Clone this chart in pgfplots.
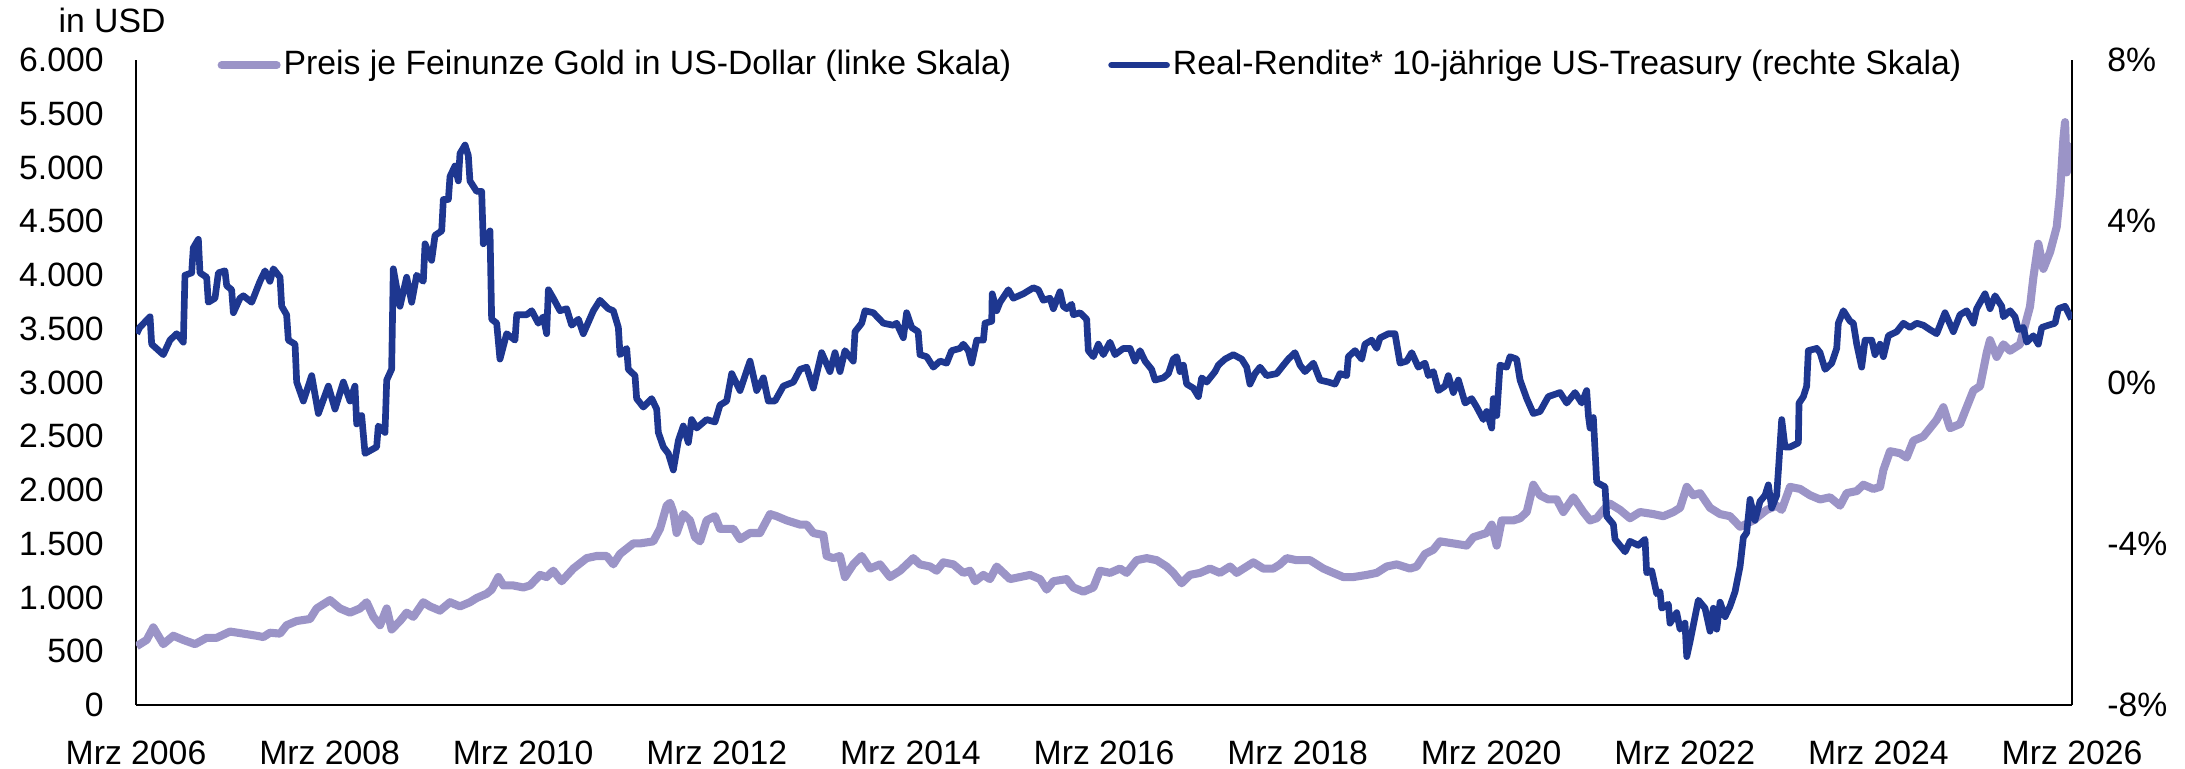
\documentclass[border=0pt]{standalone}
\usepackage{fontspec}
\setmainfont{Liberation Sans}
\usepackage{pgfplots}
\pgfplotsset{compat=1.18}
\usetikzlibrary{calc}

\definecolor{goldc}{HTML}{9B94C7}
\definecolor{bluec}{HTML}{1E3790}
\newcommand\lf{\fontsize{9.6}{11.5}\selectfont}

% x = years since March 2006
\pgfplotsset{
  base/.style={
    width=193.6mm, height=64.5mm, scale only axis,
    xmin=0, xmax=20,
    major tick length=0pt,
    axis line style={-, black, line width=0.5pt},
    tick label style={font=\lf},
    /pgf/number format/assume math mode=true,
  },
}

\begin{document}
\begin{tikzpicture}
\begin{axis}[base, name=ax,
  ymin=0, ymax=6000,
  axis x line*=bottom, axis y line*=left,
  xtick={0,2,...,20},
  xticklabels={Mrz 2006,Mrz 2008,Mrz 2010,Mrz 2012,Mrz 2014,Mrz 2016,Mrz 2018,Mrz 2020,Mrz 2022,Mrz 2024,Mrz 2026},
  xticklabel style={yshift=-2.4mm},
  ytick={0,500,...,6000},
  scaled y ticks=false,
  yticklabel style={xshift=-2.0mm, /pgf/number format/1000 sep={.}},
]
\addplot[goldc, line width=2.3pt, line join=round] coordinates {
(0.007,547) (0.110,605) (0.179,722) (0.282,566) (0.386,644) (0.489,605)
(0.610,566) (0.730,625) (0.833,625) (0.971,683) (1.109,664) (1.247,644)
(1.315,632) (1.384,672) (1.488,664) (1.556,742) (1.660,781) (1.798,800)
(1.866,898) (2.004,976) (2.107,898) (2.211,859) (2.314,898) (2.383,956)
(2.452,820) (2.521,742) (2.590,898) (2.641,703) (2.727,781) (2.796,859)
(2.865,820) (2.968,956) (3.037,917) (3.140,878) (3.244,956) (3.347,917)
(3.450,956) (3.519,995) (3.623,1035) (3.674,1073) (3.743,1190) (3.795,1112)
(3.898,1112) (4.001,1093) (4.070,1112) (4.174,1210) (4.242,1190) (4.311,1249)
(4.397,1151) (4.518,1269) (4.656,1366) (4.759,1386) (4.862,1386) (4.931,1308)
(5.000,1405) (5.138,1503) (5.207,1503) (5.344,1522) (5.413,1639) (5.482,1854)
(5.517,1881) (5.551,1795) (5.585,1600) (5.654,1776) (5.723,1717) (5.775,1561)
(5.827,1522) (5.895,1717) (5.981,1756) (6.033,1639) (6.171,1639) (6.240,1542)
(6.343,1600) (6.446,1600) (6.550,1776) (6.619,1756) (6.722,1717) (6.860,1678)
(6.928,1678) (6.997,1600) (7.101,1581) (7.135,1386) (7.204,1366) (7.273,1386)
(7.324,1190) (7.410,1308) (7.497,1386) (7.583,1269) (7.686,1308) (7.789,1190)
(7.893,1249) (8.030,1366) (8.099,1308) (8.203,1288) (8.271,1249) (8.340,1327)
(8.444,1308) (8.547,1229) (8.616,1249) (8.668,1151) (8.754,1210) (8.822,1171)
(8.891,1288) (9.029,1171) (9.132,1190) (9.236,1210) (9.339,1171) (9.408,1073)
(9.477,1151) (9.614,1171) (9.683,1093) (9.787,1054) (9.890,1093) (9.959,1249)
(10.062,1229) (10.165,1269) (10.234,1229) (10.338,1347) (10.441,1366) (10.544,1347)
(10.647,1288) (10.716,1229) (10.802,1132) (10.888,1210) (10.992,1229) (11.095,1269)
(11.198,1229) (11.302,1288) (11.371,1229) (11.474,1288) (11.543,1327) (11.646,1269)
(11.749,1269) (11.818,1308) (11.887,1366) (11.991,1347) (12.128,1347) (12.266,1269)
(12.369,1229) (12.473,1190) (12.576,1190) (12.714,1210) (12.817,1229) (12.920,1288)
(13.024,1308) (13.161,1269) (13.230,1288) (13.316,1405) (13.402,1444) (13.471,1522)
(13.609,1503) (13.747,1483) (13.816,1561) (13.953,1600) (14.005,1678) (14.057,1483)
(14.108,1717) (14.229,1717) (14.298,1737) (14.367,1795) (14.435,2049) (14.504,1951)
(14.590,1912) (14.677,1912) (14.745,1795) (14.849,1932) (14.952,1795) (15.021,1717)
(15.090,1737) (15.159,1815) (15.227,1873) (15.331,1815) (15.434,1737) (15.537,1795)
(15.675,1776) (15.778,1756) (15.882,1795) (15.951,1834) (16.020,2029) (16.088,1951)
(16.157,1971) (16.261,1834) (16.364,1776) (16.467,1756) (16.571,1658) (16.622,1678)
(16.708,1717) (16.846,1815) (16.949,1854) (17.001,1815) (17.087,2029) (17.190,2010)
(17.294,1951) (17.397,1912) (17.500,1932) (17.604,1854) (17.672,1971) (17.776,1990)
(17.845,2049) (17.948,2010) (18.017,2029) (18.051,2185) (18.120,2361) (18.223,2342)
(18.292,2302) (18.361,2458) (18.464,2498) (18.533,2575) (18.602,2653) (18.671,2770)
(18.740,2575) (18.843,2614) (18.912,2770) (18.981,2926) (19.050,2965) (19.119,3277)
(19.153,3394) (19.222,3238) (19.291,3355) (19.360,3296) (19.463,3355) (19.497,3472)
(19.566,3706) (19.601,3979) (19.652,4291) (19.704,4057) (19.773,4213) (19.842,4447)
(19.876,4759) (19.911,5266) (19.928,5422) (19.945,4954) (19.980,5149) (19.995,5227)
};
\end{axis}

\begin{axis}[base,
  ymin=-8, ymax=8,
  axis x line=none, axis y line*=right,
  ytick={-8,-4,0,4,8},
  yticklabels={-8\%,-4\%,0\%,4\%,8\%},
  yticklabel style={anchor=west, xshift=2.3mm},
  legend columns=2,
  legend cell align=left,
  legend style={at={(0.0418,0.992)}, anchor=west, draw=none, fill=none,
    inner sep=0pt, font=\lf, nodes={inner sep=0.3mm},
    /tikz/every even column/.append style={column sep=9.4mm}},
  legend image code/.code={\draw[#1, line cap=round] (0mm,0mm) -- (5.5mm,0mm);},
]
\addlegendimage{goldc, line width=2.3pt}
\addlegendentry{Preis je Feinunze Gold in US-Dollar (linke Skala)}
\addplot[bluec, line width=1.9pt, line join=round] coordinates {
(0.007,1.21) (0.040,1.37) (0.145,1.63) (0.162,0.95) (0.282,0.69) (0.351,1.05)
(0.420,1.21) (0.489,1.00) (0.506,2.66) (0.575,2.72) (0.592,3.34) (0.644,3.55)
(0.661,2.72) (0.730,2.61) (0.747,1.99) (0.816,2.09) (0.851,2.72) (0.919,2.77)
(0.937,2.40) (0.988,2.30) (1.006,1.73) (1.074,2.09) (1.109,2.15) (1.195,1.99)
(1.281,2.51) (1.333,2.77) (1.384,2.51) (1.419,2.82) (1.488,2.61) (1.505,1.89)
(1.556,1.68) (1.574,1.05) (1.643,0.95) (1.660,0.01) (1.729,-0.46) (1.815,0.17)
(1.884,-0.77) (1.987,-0.09) (2.056,-0.66) (2.142,0.01) (2.211,-0.46) (2.262,-0.09)
(2.280,-1.03) (2.331,-0.82) (2.366,-1.76) (2.486,-1.60) (2.503,-1.08) (2.572,-1.24)
(2.590,0.06) (2.641,0.33) (2.658,2.82) (2.727,1.89) (2.796,2.61) (2.848,1.99)
(2.899,2.66) (2.968,2.51) (2.986,3.44) (3.054,3.03) (3.089,3.65) (3.158,3.76)
(3.175,4.54) (3.227,4.54) (3.244,5.11) (3.295,5.37) (3.330,5.00) (3.347,5.68)
(3.399,5.89) (3.433,5.63) (3.450,5.00) (3.519,4.74) (3.571,4.74) (3.588,3.44)
(3.657,3.76) (3.674,1.57) (3.726,1.47) (3.760,0.58) (3.829,1.21) (3.915,1.05)
(3.933,1.68) (4.036,1.68) (4.088,1.78) (4.156,1.47) (4.208,1.63) (4.242,1.21)
(4.260,2.30) (4.311,2.09) (4.380,1.78) (4.449,1.83) (4.501,1.42) (4.570,1.57)
(4.621,1.21) (4.725,1.78) (4.793,2.04) (4.880,1.83) (4.931,1.78) (4.983,1.365)
(5.000,0.69) (5.069,0.845) (5.086,0.325) (5.155,0.17) (5.172,-0.40) (5.241,-0.61)
(5.327,-0.40) (5.379,-0.66) (5.396,-1.24) (5.448,-1.60) (5.499,-1.76) (5.551,-2.17)
(5.603,-1.44) (5.654,-1.08) (5.706,-1.49) (5.740,-0.92) (5.792,-1.13) (5.895,-0.92)
(5.981,-0.98) (6.033,-0.56) (6.102,-0.46) (6.154,0.22) (6.240,-0.20) (6.343,0.53)
(6.412,-0.20) (6.481,0.115) (6.532,-0.46) (6.601,-0.46) (6.687,-0.09) (6.791,0.01)
(6.860,0.325) (6.928,0.38) (6.997,-0.14) (7.083,0.74) (7.169,0.27) (7.221,0.74)
(7.273,0.27) (7.324,0.79) (7.410,0.53) (7.428,1.26) (7.497,1.47) (7.531,1.78)
(7.617,1.73) (7.721,1.47) (7.824,1.42) (7.858,1.47) (7.927,1.11) (7.961,1.73)
(8.013,1.365) (8.080,1.26) (8.099,0.69) (8.168,0.64) (8.237,0.38) (8.306,0.53)
(8.375,0.48) (8.426,0.79) (8.512,0.845) (8.547,0.95) (8.599,0.79) (8.633,0.48)
(8.685,1.05) (8.754,1.05) (8.771,1.47) (8.840,1.52) (8.845,2.20) (8.891,1.78)
(8.926,1.99) (9.012,2.30) (9.063,2.09) (9.167,2.20) (9.270,2.35) (9.322,2.30)
(9.373,2.04) (9.442,2.09) (9.477,1.83) (9.545,2.25) (9.580,1.89) (9.614,1.83)
(9.666,1.94) (9.683,1.68) (9.752,1.73) (9.821,1.57) (9.838,0.79) (9.890,0.64)
(9.942,0.95) (9.993,0.69) (10.062,1.00) (10.114,0.69) (10.200,0.845) (10.269,0.845)
(10.320,0.53) (10.372,0.79) (10.424,0.53) (10.492,0.325) (10.527,0.06) (10.613,0.115)
(10.665,0.22) (10.716,0.58) (10.751,0.64) (10.785,0.27) (10.820,0.43) (10.854,-0.04)
(10.923,-0.14) (10.975,-0.35) (11.009,0.115) (11.061,0.01) (11.147,0.27) (11.181,0.43)
(11.250,0.58) (11.336,0.69) (11.422,0.58) (11.474,0.38) (11.508,-0.04) (11.560,0.22)
(11.612,0.38) (11.680,0.17) (11.784,0.22) (11.853,0.43) (11.904,0.58) (11.973,0.74)
(12.025,0.43) (12.076,0.27) (12.163,0.48) (12.232,0.06) (12.318,0.01) (12.387,-0.04)
(12.438,0.22) (12.507,0.17) (12.524,0.64) (12.593,0.79) (12.662,0.58) (12.696,0.95)
(12.765,1.05) (12.817,0.845) (12.851,1.105) (12.938,1.21) (13.006,1.21) (13.058,0.48)
(13.127,0.53) (13.179,0.74) (13.247,0.38) (13.316,0.48) (13.351,0.17) (13.402,0.27)
(13.454,-0.20) (13.523,-0.09) (13.557,0.17) (13.609,-0.25) (13.661,0.06) (13.730,-0.51)
(13.798,-0.40) (13.850,-0.61) (13.919,-0.92) (13.953,-0.72) (14.005,-1.13) (14.022,-0.40)
(14.057,-0.82) (14.091,0.43) (14.160,0.38) (14.194,0.64) (14.263,0.58) (14.298,0.06)
(14.367,-0.40) (14.435,-0.77) (14.504,-0.72) (14.590,-0.35) (14.711,-0.25) (14.780,-0.51)
(14.866,-0.25) (14.935,-0.51) (14.986,-0.20) (15.004,-0.82) (15.021,-1.13) (15.055,-0.87)
(15.090,-2.48) (15.176,-2.59) (15.193,-3.32) (15.262,-3.52) (15.279,-3.89) (15.383,-4.20)
(15.434,-3.94) (15.520,-4.04) (15.589,-3.89) (15.606,-4.72) (15.658,-4.67) (15.710,-5.24)
(15.744,-5.19) (15.761,-5.60) (15.830,-5.50) (15.847,-5.97) (15.916,-5.71) (15.951,-6.12)
(16.002,-5.97) (16.020,-6.80) (16.054,-6.43) (16.088,-6.02) (16.140,-5.40) (16.209,-5.60)
(16.261,-6.17) (16.295,-5.60) (16.330,-6.12) (16.364,-5.45) (16.416,-5.81) (16.467,-5.55)
(16.519,-5.19) (16.571,-4.56) (16.605,-3.84) (16.639,-3.73) (16.674,-2.90) (16.725,-3.42)
(16.777,-2.95) (16.829,-2.80) (16.863,-2.54) (16.898,-3.11) (16.949,-2.80) (16.967,-2.17)
(17.001,-0.92) (17.035,-1.60) (17.087,-1.60) (17.173,-1.50) (17.180,-0.51) (17.225,-0.35)
(17.259,-0.09) (17.276,0.79) (17.363,0.845) (17.397,0.74) (17.449,0.325) (17.518,0.48)
(17.569,0.845) (17.586,1.47) (17.638,1.78) (17.707,1.52) (17.741,1.47) (17.776,0.95)
(17.827,0.38) (17.862,1.05) (17.931,1.05) (17.965,0.69) (18.017,0.95) (18.051,0.64)
(18.103,1.16) (18.189,1.26) (18.258,1.47) (18.327,1.365) (18.396,1.47) (18.464,1.42)
(18.533,1.31) (18.602,1.21) (18.688,1.73) (18.774,1.26) (18.843,1.68) (18.912,1.78)
(18.981,1.47) (19.015,1.83) (19.101,2.20) (19.153,1.83) (19.205,2.15) (19.274,1.89)
(19.291,1.63) (19.360,1.78) (19.411,1.63) (19.446,1.31) (19.497,1.365) (19.532,1.00)
(19.601,1.16) (19.652,0.95) (19.687,1.365) (19.756,1.42) (19.825,1.47) (19.859,1.83)
(19.928,1.89) (19.962,1.73) (19.995,1.57)
};
\addlegendentry{Real-Rendite* 10-jährige US-Treasury (rechte Skala)}
\end{axis}

\node[font=\lf] at ($(ax.north west)+(-2.4mm,4.0mm)$) {in USD};

\pgfresetboundingbox
\path[use as bounding box] ($(ax.south west)+(-13.6mm,-6.4mm)$) rectangle ($(ax.north east)+(11.3mm,6.0mm)$);
\end{tikzpicture}
\end{document}
